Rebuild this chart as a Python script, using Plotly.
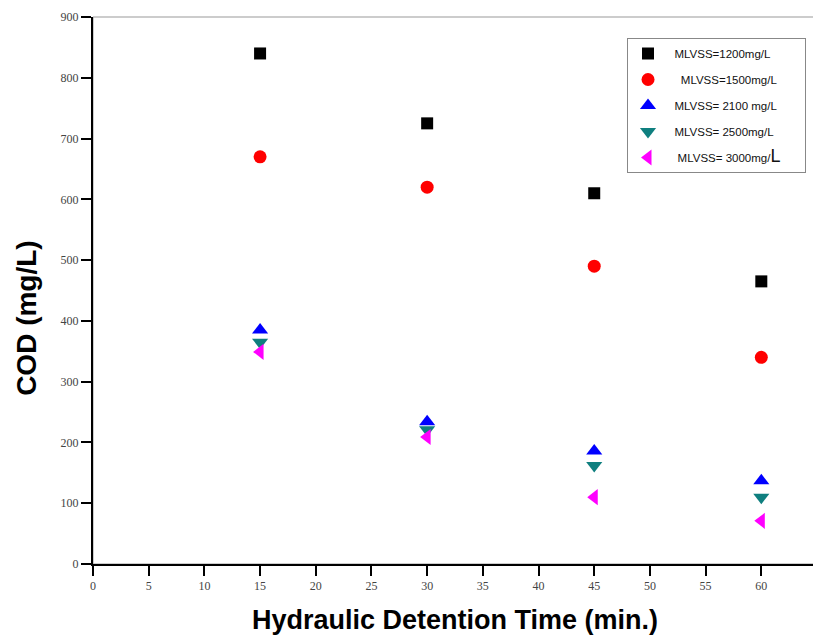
import plotly.graph_objects as go

hdt = [15, 30, 45, 60]
cod_1200 = [840, 725, 610, 465]
cod_1500 = [670, 620, 490, 340]
cod_2100 = [385, 234, 186, 137]
cod_2500 = [365, 221, 162, 110]
cod_3000 = [349, 209, 110, 71]

NB = "\u00a0"
PAD = NB * 6
names = [NB * 2 + "MLVSS=1200mg/L" + PAD, NB * 4 + "MLVSS=1500mg/L" + PAD,
         NB * 2 + "MLVSS= 2100 mg/L" + PAD, NB * 2 + "MLVSS= 2500mg/L" + PAD,
         NB * 3 + "MLVSS= 3000mg/<span style='font-size:18px'>L</span>" + PAD]
series = [cod_1200, cod_1500, cod_2100, cod_2500, cod_3000]
symbols = ["square", "circle", "triangle-up", "triangle-down", "triangle-left"]
colors = ["#000000", "#ff0000", "#0000ff", "#0f7f7f", "#ff00ff"]
sizes = [12, 13, 14, 14, 14]

fig = go.Figure()
for i, (n, s, sym, c, sz) in enumerate(zip(names, series, symbols, colors, sizes)):
    fig.add_trace(go.Scatter(x=hdt, y=s, mode="markers", name=n, legendgroup=f"g{i}",
                             marker=dict(symbol=sym, color=c, size=sz, line=dict(width=0))))

fig.add_shape(type="rect", xref="x domain", yref="y domain", x0=0, x1=1, y0=0, y1=1,
              line=dict(color="#999999", width=1), layer="below")

fig.add_annotation(text="<b>COD (mg/L)</b>", textangle=-90, xref="paper", yref="paper",
                   x=0, y=0.45, xanchor="center", yanchor="middle", xshift=-66,
                   showarrow=False, font=dict(family="Liberation Sans", size=28, color="black"))

fig.update_layout(
    width=813, height=628,
    margin=dict(l=85, r=4, t=9, b=72),
    paper_bgcolor="white", plot_bgcolor="white",
    showlegend=True,
    legend=dict(x=0.7376, y=0.9616, xanchor="left", yanchor="top",
                bordercolor="#888888", borderwidth=1, bgcolor="white",
                font=dict(family="Liberation Sans", size=11.5, color="#111"),
                tracegroupgap=7, itemwidth=30),
    xaxis=dict(range=[0, 65], tick0=0, dtick=5, showgrid=False, zeroline=False,
               showline=True, linecolor="black", linewidth=2, automargin=False,
               ticks="outside", ticklen=10, tickwidth=2, tickcolor="black",
               tickfont=dict(family="Liberation Serif", size=12, color="#444"),
               title=dict(text="<b>Hydraulic Detention Time (min.)</b>", standoff=18,
                          font=dict(family="Liberation Sans", size=27, color="black"))),
    yaxis=dict(range=[0, 900], tick0=0, dtick=100, showgrid=False, zeroline=False,
               showline=True, linecolor="black", linewidth=2, automargin=False,
               ticks="outside", ticklen=10, tickwidth=2, tickcolor="black",
               tickfont=dict(family="Liberation Serif", size=12, color="#444")),
)

fig.write_html("out.html")
